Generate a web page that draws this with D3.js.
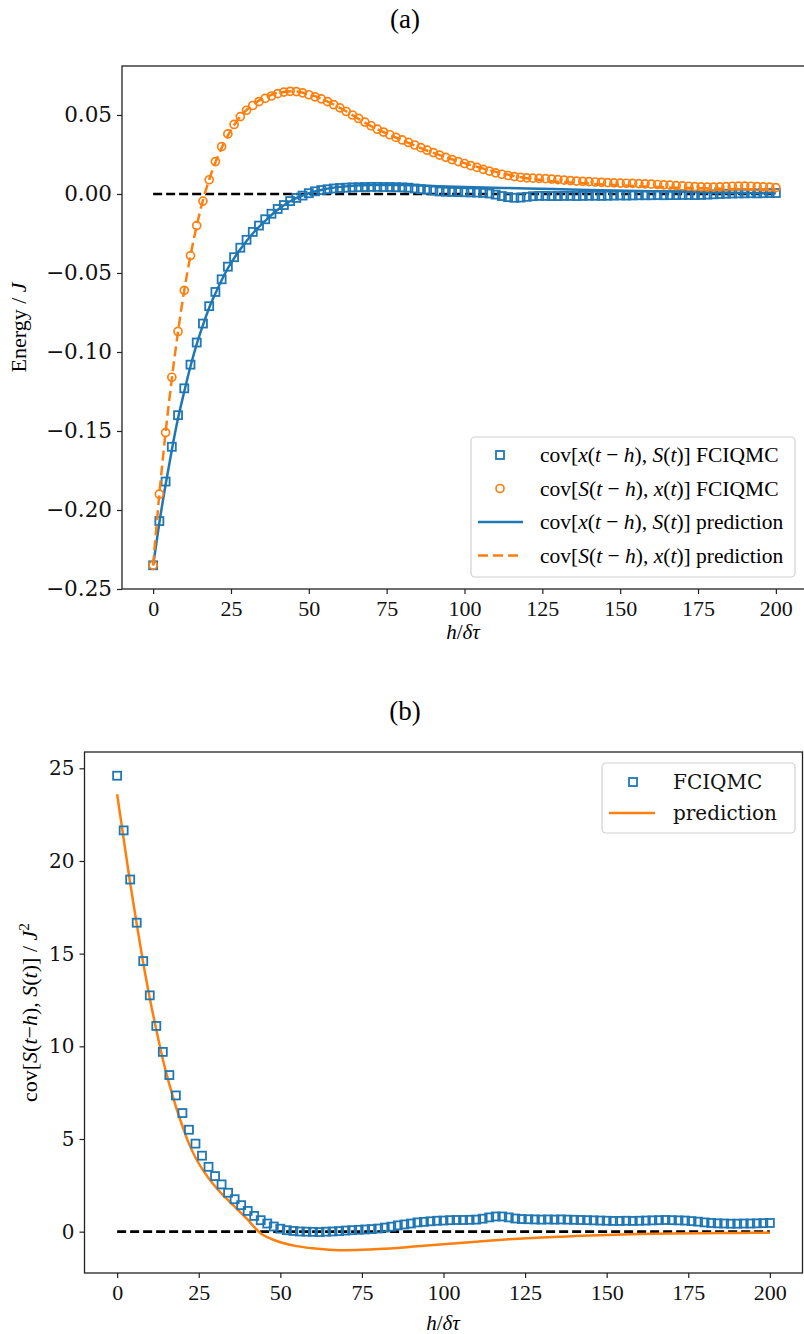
<!DOCTYPE html>
<html>
<head>
<meta charset="utf-8">
<script src="https://cdn.jsdelivr.net/npm/d3@7"></script>
<style>
  body { margin: 0; background: #fff; }
</style>
</head>
<body>
<div id="fig"></div>
<script>
// lag h / delta tau of the FCIQMC points (every 2 steps)
const lagH = [0,2,4,6,8,10,12,14,16,18,20,22,24,26,28,30,32,34,36,38,40,42,44,46,48,50,52,54,56,58,
  60,62,64,66,68,70,72,74,76,78,80,82,84,86,88,90,92,94,96,98,100,102,104,106,108,110,112,114,116,118,
  120,122,124,126,128,130,132,134,136,138,140,142,144,146,148,150,152,154,156,158,160,162,164,166,168,170,
  172,174,176,178,180,182,184,186,188,190,192,194,196,198,200];

// panel (a): cov[x(t-h), S(t)] FCIQMC
const covXS = [-0.235,-0.207,-0.182,-0.160,-0.140,-0.123,-0.108,-0.094,-0.082,-0.071,
  -0.062,-0.054,-0.046,-0.040,-0.034,-0.029,-0.024,-0.020,-0.016,-0.0125,
  -0.0095,-0.007,-0.0045,-0.0025,-0.001,0.0005,0.0017,0.0025,0.003,0.0035,
  0.0038,0.004,0.0042,0.0043,0.0044,0.0045,0.0045,0.0044,0.0044,0.0043,
  0.0042,0.004,0.0035,0.003,0.0027,0.0022,0.0016,0.0014,0.0013,0.0012,
  0.0011,0.0010,0.0009,0.0007,0.0003,-0.0004,-0.0013,-0.002,-0.0024,-0.0023,
  -0.0018,-0.0014,-0.0012,-0.0012,-0.0013,-0.0013,-0.0012,-0.0012,-0.0013,-0.0012,
  -0.0011,-0.0011,-0.0012,-0.0011,-0.001,-0.0009,-0.001,-0.0009,-0.0008,-0.0008,
  -0.0008,-0.0007,-0.0008,-0.0007,-0.0007,-0.0006,-0.0006,-0.0007,-0.0006,-0.0004,
  -0.0002,0.0,0.0002,0.0003,0.0004,0.0004,0.0005,0.0004,0.0005,0.0006,
  0.0006];

// panel (a): cov[S(t-h), x(t)] FCIQMC
const covSX = [-0.235,-0.190,-0.151,-0.116,-0.087,-0.061,-0.039,-0.020,-0.0045,0.009,
  0.0205,0.030,0.038,0.044,0.049,0.053,0.056,0.0585,0.0605,0.062,
  0.0635,0.0645,0.065,0.0648,0.064,0.0628,0.0615,0.0602,0.0585,0.0565,
  0.0545,0.0522,0.050,0.0478,0.0455,0.0432,0.041,0.0392,0.0375,0.0358,
  0.0342,0.0326,0.031,0.0293,0.0277,0.0262,0.0246,0.0232,0.0218,0.0205,
  0.0193,0.018,0.0168,0.0156,0.0145,0.0134,0.0125,0.0117,0.011,0.0105,
  0.0102,0.0100,0.0099,0.0097,0.0094,0.0091,0.0088,0.0085,0.0082,0.008,
  0.0078,0.0076,0.0074,0.0072,0.007,0.0069,0.0068,0.0067,0.0066,0.0064,
  0.0062,0.006,0.0058,0.0056,0.0053,0.0051,0.0049,0.0047,0.0045,0.0044,
  0.0044,0.0045,0.0047,0.0049,0.005,0.005,0.0049,0.0047,0.0045,0.0043,
  0.004];

// panel (a): predictions
const predAH = [0,2,4,6,8,10,12,14,16,18,20,24,28,32,36,40,45,50,55,60,70,80,90,100,120,140,160,180,200];
const predXS = [-0.235,-0.208,-0.184,-0.162,-0.142,-0.125,-0.109,-0.095,-0.083,-0.072,
  -0.063,-0.047,-0.035,-0.025,-0.017,-0.010,-0.0035,0.0005,0.003,0.0045,
  0.0057,0.0057,0.0050,0.0044,0.0035,0.0026,0.0018,0.0010,0.0004];
const predSX = [-0.235,-0.190,-0.151,-0.117,-0.087,-0.061,-0.039,-0.020,-0.004,0.009,
  0.020,0.037,0.049,0.0565,0.061,0.064,0.065,0.0632,0.0595,0.0545,
  0.043,0.034,0.026,0.0195,0.010,0.0066,0.0046,0.0034,0.0028];

// panel (b): cov[S(t-h), S(t)] FCIQMC
const covSS = [24.6,21.65,19.0,16.67,14.6,12.75,11.1,9.7,8.45,7.35,
  6.4,5.5,4.75,4.1,3.5,3.0,2.55,2.1,1.75,1.43,
  1.12,0.85,0.62,0.44,0.28,0.16,0.08,0.04,0.01,0.0,
  -0.01,-0.02,0.0,0.01,0.03,0.06,0.08,0.1,0.12,0.14,
  0.17,0.22,0.27,0.34,0.39,0.44,0.5,0.53,0.56,0.59,
  0.6,0.62,0.63,0.63,0.64,0.65,0.7,0.77,0.82,0.82,
  0.77,0.71,0.68,0.67,0.66,0.65,0.66,0.65,0.66,0.65,
  0.64,0.63,0.62,0.61,0.6,0.59,0.58,0.58,0.59,0.58,
  0.59,0.6,0.61,0.62,0.63,0.62,0.61,0.6,0.57,0.54,
  0.5,0.47,0.45,0.44,0.43,0.43,0.44,0.44,0.45,0.46,
  0.47];

// panel (b): prediction
const predBH = [0,2,4,6,8,10,12,14,16,18,20,22,24,26,28,30,32,34,36,38,40,42,44,46,48,50,
  55,60,65,70,75,80,90,100,110,120,130,140,150,160,170,180,190,200];
const predSS = [23.6,21.2,18.8,16.6,14.5,12.6,10.9,9.3,7.95,6.75,
  5.7,4.75,4.0,3.4,2.9,2.45,2.05,1.7,1.35,1.0,
  0.65,0.25,-0.1,-0.3,-0.45,-0.57,
  -0.78,-0.9,-0.97,-1.0,-0.98,-0.94,
  -0.82,-0.68,-0.54,-0.41,-0.31,-0.24,-0.18,-0.13,-0.1,-0.08,-0.07,-0.06];

const zeroH = [0, 200];
const xTicks = [0,25,50,75,100,125,150,175,200];
const yTicksA = [-0.25,-0.20,-0.15,-0.10,-0.05,0.00,0.05];
const yTicksB = [0,5,10,15,20,25];

const blue = "#1f77b4", orange = "#ff7f0e";
const W = 804, H = 1334;

const svg = d3.select("#fig").append("svg")
  .attr("width", W).attr("height", H)
  .style("background", "#fff");

// helper: write text made of roman / italic pieces
function richText(sel, parts) {
  parts.forEach(function(p) {
    const t = sel.append("tspan").text(p[0]);
    if (p[1] === "i") t.style("font-style", "italic");
    if (p[1] === "sup") t.attr("baseline-shift", "super").style("font-size", "70%");
  });
}

function drawAxes(g, x, y, yTicks, yFmt, box, ySize) {
  // spines
  g.append("rect")
    .attr("x", box.l).attr("y", box.t)
    .attr("width", box.r - box.l).attr("height", box.b - box.t)
    .attr("fill", "none").attr("stroke", "#222").attr("stroke-width", 1.3);

  const xa = g.append("g")
    .attr("transform", "translate(0," + box.b + ")")
    .call(d3.axisBottom(x).tickValues(xTicks).tickSize(5).tickPadding(6).tickFormat(d3.format("d")));
  xa.select(".domain").remove();
  xa.selectAll("line").attr("stroke", "#222").attr("stroke-width", 1.2);
  xa.selectAll("text")
    .style("font-family", "'Liberation Serif', serif")
    .style("font-size", "22px").attr("fill", "#111");

  const ya = g.append("g")
    .attr("transform", "translate(" + box.l + ",0)")
    .call(d3.axisLeft(y).tickValues(yTicks).tickSize(5).tickPadding(5).tickFormat(yFmt));
  ya.select(".domain").remove();
  ya.selectAll("line").attr("stroke", "#222").attr("stroke-width", 1.2);
  ya.selectAll("text")
    .style("font-family", "'DejaVu Serif', serif")
    .style("font-size", ySize + "px").attr("fill", "#111");
}

// ---------------- panel (a) ----------------
const boxA = {l: 122, r: 807, t: 66, b: 589};
const xA = d3.scaleLinear().domain([-10, 210]).range([boxA.l, boxA.r]);
const yA = d3.scaleLinear().domain([-0.25, 0.081]).range([boxA.b, boxA.t]);
const gA = svg.append("g");

svg.append("text").attr("x", 405).attr("y", 28).attr("text-anchor", "middle")
  .style("font-family", "'Liberation Serif', serif").style("font-size", "27px")
  .text("(a)");

drawAxes(gA, xA, yA, yTicksA, d3.format(".2f"), boxA, 21.5);

gA.append("path").datum(zeroH)
  .attr("fill", "none").attr("stroke", "#000").attr("stroke-width", 2.6)
  .attr("stroke-dasharray", "9,4")
  .attr("d", d3.line().x(d => xA(d)).y(() => yA(0)));

const lineA = function(vals) {
  return d3.line().curve(d3.curveMonotoneX)
    .x((d, i) => xA(predAH[i])).y(d => yA(d))(vals);
};

gA.append("path").attr("d", lineA(predXS))
  .attr("fill", "none").attr("stroke", blue).attr("stroke-width", 2.5);

gA.selectAll(".sqA").data(covXS).join("rect")
  .attr("class", "sqA")
  .attr("x", (d, i) => xA(lagH[i]) - 4).attr("y", d => yA(d) - 4)
  .attr("width", 8).attr("height", 8)
  .attr("fill", "none").attr("stroke", blue).attr("stroke-width", 1.8);

gA.append("path").attr("d", lineA(predSX))
  .attr("fill", "none").attr("stroke", orange).attr("stroke-width", 2.5)
  .attr("stroke-dasharray", "10,5");

gA.selectAll(".ciA").data(covSX).join("circle")
  .attr("class", "ciA")
  .attr("cx", (d, i) => xA(lagH[i])).attr("cy", d => yA(d))
  .attr("r", 4)
  .attr("fill", "none").attr("stroke", orange).attr("stroke-width", 1.7);

// labels
svg.append("text")
  .attr("transform", "translate(26," + ((boxA.t + boxA.b) / 2) + ") rotate(-90)")
  .attr("text-anchor", "middle")
  .style("font-family", "'Liberation Serif', serif").style("font-size", "22px")
  .call(richText, [["Energy / ", ""], ["J", "i"]]);

svg.append("text").attr("x", 463).attr("y", 639).attr("text-anchor", "middle")
  .style("font-family", "'Liberation Serif', serif").style("font-size", "21px")
  .call(richText, [["h", "i"], ["/", ""], ["δτ", "i"]]);

// legend (a)
const legA = svg.append("g");
legA.append("rect").attr("x", 471).attr("y", 437).attr("width", 324).attr("height", 140)
  .attr("rx", 4).attr("fill", "#fff").attr("fill-opacity", 0.85)
  .attr("stroke", "#d0d0d0").attr("stroke-width", 1.2);
const legAItems = [
  {kind: "sq", parts: [["cov[", ""], ["x", "i"], ["(", ""], ["t", "i"], [" − ", ""], ["h", "i"], ["), ", ""], ["S", "i"], ["(", ""], ["t", "i"], [")] FCIQMC", ""]]},
  {kind: "ci", parts: [["cov[", ""], ["S", "i"], ["(", ""], ["t", "i"], [" − ", ""], ["h", "i"], ["), ", ""], ["x", "i"], ["(", ""], ["t", "i"], [")] FCIQMC", ""]]},
  {kind: "solid", parts: [["cov[", ""], ["x", "i"], ["(", ""], ["t", "i"], [" − ", ""], ["h", "i"], ["), ", ""], ["S", "i"], ["(", ""], ["t", "i"], [")] prediction", ""]]},
  {kind: "dash", parts: [["cov[", ""], ["S", "i"], ["(", ""], ["t", "i"], [" − ", ""], ["h", "i"], ["), ", ""], ["x", "i"], ["(", ""], ["t", "i"], [")] prediction", ""]]}
];
legAItems.forEach(function(it, i) {
  const cy = 455 + i * 33.5;
  if (it.kind === "sq") legA.append("rect").attr("x", 496).attr("y", cy - 4).attr("width", 8).attr("height", 8)
    .attr("fill", "none").attr("stroke", blue).attr("stroke-width", 1.8);
  if (it.kind === "ci") legA.append("circle").attr("cx", 500).attr("cy", cy).attr("r", 4)
    .attr("fill", "none").attr("stroke", orange).attr("stroke-width", 1.7);
  if (it.kind === "solid") legA.append("line").attr("x1", 478).attr("x2", 523).attr("y1", cy).attr("y2", cy)
    .attr("stroke", blue).attr("stroke-width", 2.5);
  if (it.kind === "dash") legA.append("line").attr("x1", 478).attr("x2", 523).attr("y1", cy).attr("y2", cy)
    .attr("stroke", orange).attr("stroke-width", 2.5).attr("stroke-dasharray", "10,5");
  legA.append("text").attr("x", 540).attr("y", cy + 7)
    .style("font-family", "'Liberation Serif', serif").style("font-size", "21.5px")
    .call(richText, it.parts);
});

// ---------------- panel (b) ----------------
const boxB = {l: 84.5, r: 802.5, t: 752, b: 1273};
const xB = d3.scaleLinear().domain([-10, 210]).range([boxB.l, boxB.r]);
const yB = d3.scaleLinear().domain([-2.23, 25.88]).range([boxB.b, boxB.t]);
const gB = svg.append("g");

svg.append("text").attr("x", 405).attr("y", 720).attr("text-anchor", "middle")
  .style("font-family", "'Liberation Serif', serif").style("font-size", "27px")
  .text("(b)");

drawAxes(gB, xB, yB, yTicksB, d3.format("d"), boxB, 20);

gB.append("path").datum(zeroH)
  .attr("fill", "none").attr("stroke", "#000").attr("stroke-width", 2.6)
  .attr("stroke-dasharray", "9,4")
  .attr("d", d3.line().x(d => xB(d)).y(() => yB(0)));

gB.append("path")
  .attr("d", d3.line().curve(d3.curveMonotoneX)
    .x((d, i) => xB(predBH[i])).y(d => yB(d))(predSS))
  .attr("fill", "none").attr("stroke", orange).attr("stroke-width", 2.5);

gB.selectAll(".sqB").data(covSS).join("rect")
  .attr("class", "sqB")
  .attr("x", (d, i) => xB(lagH[i]) - 4).attr("y", d => yB(d) - 4)
  .attr("width", 8).attr("height", 8)
  .attr("fill", "none").attr("stroke", blue).attr("stroke-width", 1.8);

svg.append("text")
  .attr("transform", "translate(37," + ((boxB.t + boxB.b) / 2) + ") rotate(-90)")
  .attr("text-anchor", "middle")
  .style("font-family", "'Liberation Serif', serif").style("font-size", "22px")
  .call(richText, [["cov[", ""], ["S", "i"], ["(", ""], ["t", "i"], ["−", ""], ["h", "i"], ["), ", ""], ["S", "i"], ["(", ""], ["t", "i"], [")] / ", ""], ["J", "i"], ["2", "sup"]]);

svg.append("text").attr("x", 443).attr("y", 1330).attr("text-anchor", "middle")
  .style("font-family", "'Liberation Serif', serif").style("font-size", "21px")
  .call(richText, [["h", "i"], ["/", ""], ["δτ", "i"]]);

// legend (b)
const legB = svg.append("g");
legB.append("rect").attr("x", 602).attr("y", 763).attr("width", 193).attr("height", 70)
  .attr("rx", 4).attr("fill", "#fff").attr("fill-opacity", 0.85)
  .attr("stroke", "#d0d0d0").attr("stroke-width", 1.2);
legB.append("rect").attr("x", 629).attr("y", 782 - 4).attr("width", 8).attr("height", 8)
  .attr("fill", "none").attr("stroke", blue).attr("stroke-width", 1.8);
legB.append("line").attr("x1", 609).attr("x2", 655).attr("y1", 813).attr("y2", 813)
  .attr("stroke", orange).attr("stroke-width", 2.5);
[["FCIQMC", 782], ["prediction", 813]].forEach(function(t) {
  legB.append("text").attr("x", 673).attr("y", t[1] + 7)
    .style("font-family", "'DejaVu Serif', serif").style("font-size", "20px")
    .attr("fill", "#111").text(t[0]);
});
</script>
</body>
</html>
